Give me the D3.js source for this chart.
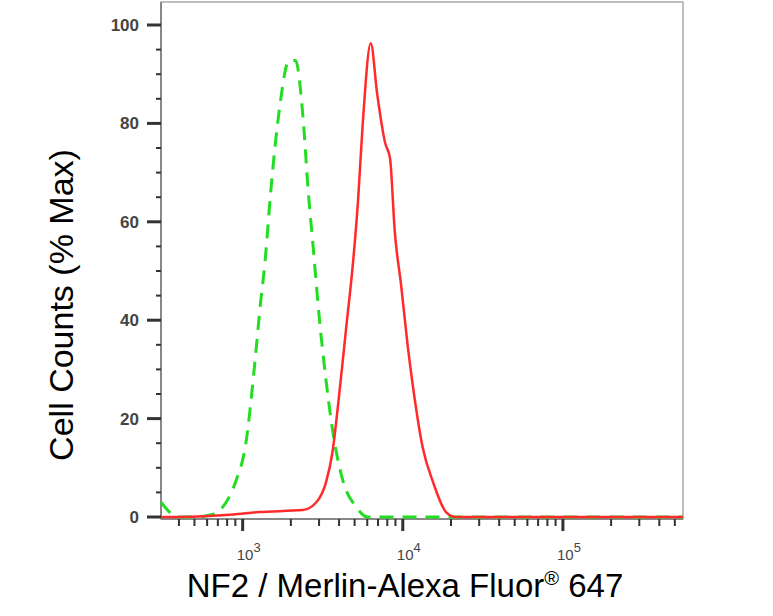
<!DOCTYPE html>
<html><head><meta charset="utf-8">
<script src="https://cdn.jsdelivr.net/npm/d3@7"></script>
<style>body{margin:0;background:#fff}</style></head>
<body><svg id="c" width="773" height="616"></svg>
<script>
// log10 intensity and % max values
const greenLog = [2.49,2.6,2.7,2.81,2.96,3.02,3.075,3.11,3.14,3.175,3.23,3.29,3.33,3.375,3.41,3.44,3.48,3.52,3.56,3.625,3.71,3.78,4.0,4.5,5.0,5.75];
const greenVal = [3,0,0,0.5,7.5,15,31,43,52,66,83,92.8,92.8,82,66,55,40,28,18,7.5,2,0,0,0,0,0];
const redLog = [2.49,2.6,2.94,3.1,3.375,3.46,3.52,3.56,3.6,3.645,3.69,3.72,3.75,3.8,3.84,3.89,3.92,3.95,3.99,4.03,4.07,4.125,4.19,4.27,4.33,5.0,5.75];
const redVal = [0,0,0.5,1.0,1.4,3,7,13,24,38,52,64,80,96.3,86,76,73,58,47,35,25,14,7,1,0,0,0];
const yTicks = [0,20,40,60,80,100];
const xDecades = [3,4,5];

const svg = d3.select("#c");
const L=161,R=683,T=2,B=519;
const x = d3.scaleLog().domain([Math.pow(10,2.49),Math.pow(10,5.75)]).range([L,R]);
const y = d3.scaleLinear().domain([0,100]).range([517,25]);

svg.append("rect").attr("x",L).attr("y",T).attr("width",R-L).attr("height",B-T)
  .attr("fill","none").attr("stroke","#aaa").attr("stroke-width",1.5);

const yg = svg.append("g");
yg.append("line").attr("x1",L).attr("x2",L).attr("y1",T).attr("y2",B).attr("stroke","#888").attr("stroke-width",2);
d3.range(0,101,5).forEach(v=>{
  const major = v%20===0;
  yg.append("line").attr("x1",L-(major?14:5)).attr("x2",L).attr("y1",y(v)).attr("y2",y(v))
    .attr("stroke","#333").attr("stroke-width",major?3:2);
});
yTicks.forEach(v=>{
  yg.append("text").attr("x",L-22).attr("y",y(v)+6).attr("text-anchor","end")
    .attr("font-family","Liberation Sans, Arial").attr("font-size",17).attr("font-weight","bold").attr("fill","#444").text(v);
});

const xg = svg.append("g");
xg.append("line").attr("x1",L).attr("x2",R).attr("y1",B).attr("y2",B).attr("stroke","#888").attr("stroke-width",2);
const dom = x.domain();
for(let d=2; d<=5; d++){
  for(let m=1;m<=9;m++){
    const v=m*Math.pow(10,d);
    if(v<dom[0]||v>dom[1]) continue;
    const major = m===1;
    xg.append("line").attr("x1",x(v)).attr("x2",x(v)).attr("y1",B).attr("y2",B+(major?12:7))
      .attr("stroke","#333").attr("stroke-width",major?3:2);
  }
}
xDecades.forEach(d=>{
  const t = xg.append("text").attr("x",x(Math.pow(10,d))+6).attr("y",560).attr("text-anchor","middle")
    .attr("font-family","Liberation Sans, Arial").attr("font-size",15).attr("fill","#444");
  t.append("tspan").text("10");
  t.append("tspan").attr("dy",-8).attr("font-size",13).text(d);
});

const line = d3.line().x(d=>x(Math.pow(10,d[0]))).y(d=>y(d[1])).curve(d3.curveMonotoneX);
svg.append("path").datum(greenLog.map((l,i)=>[l,greenVal[i]])).attr("d",line)
  .attr("fill","none").attr("stroke","#22dd22").attr("stroke-width",3).attr("stroke-dasharray","14,9");
svg.append("path").datum(redLog.map((l,i)=>[l,redVal[i]])).attr("d",line)
  .attr("fill","none").attr("stroke","#ff2a2a").attr("stroke-width",2.5);

svg.append("text").attr("transform","translate(73,305) rotate(-90)").attr("text-anchor","middle")
  .attr("font-family","Liberation Sans, Arial").attr("font-size",34).attr("fill","#000").text("Cell Counts (% Max)");
const xt = svg.append("text").attr("x",405).attr("y",597).attr("text-anchor","middle")
  .attr("font-family","Liberation Sans, Arial").attr("font-size",33).attr("fill","#000");
xt.append("tspan").text("NF2 / Merlin-Alexa Fluor");
xt.append("tspan").attr("dy",-12).attr("font-size",20).text("®");
xt.append("tspan").attr("dy",12).text(" 647");
</script></body></html>
